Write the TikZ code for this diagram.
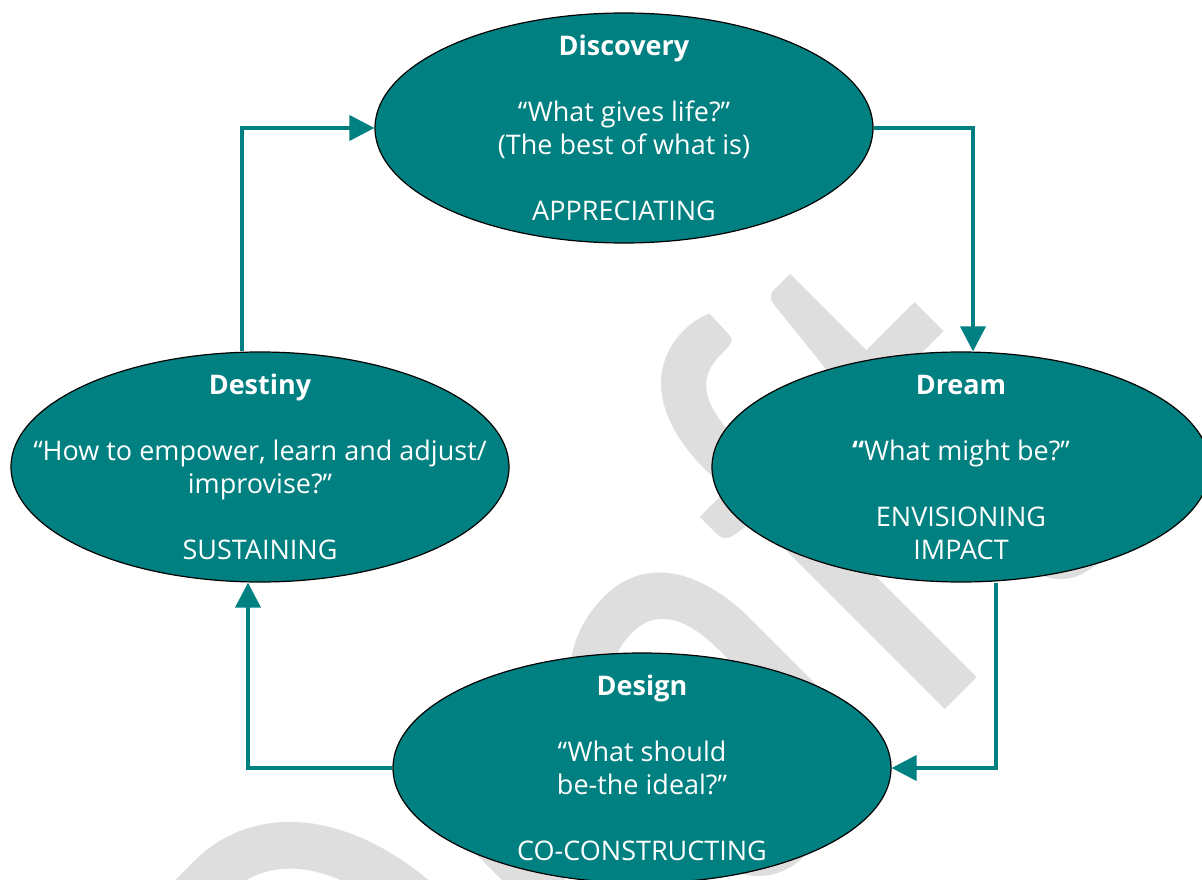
\documentclass[tikz,border=0pt]{standalone}
\usepackage{fontspec}
\setmainfont{Open Sans}
\newfontfamily\draftfont{Carlito}
\usetikzlibrary{arrows.meta, shapes.geometric}

\definecolor{stageteal}{RGB}{0,128,128}
\definecolor{draftgray}{RGB}{222,222,222}

\begin{document}
\begin{tikzpicture}[x=1pt, y=-1pt,
    stage/.style={ellipse, draw=black, line width=1.2pt, fill=stageteal, minimum width=498pt, minimum height=230pt, inner sep=0pt},
    stagetext/.style={align=center, text=white, font=\fontsize{27}{33}\selectfont, inner sep=0pt},
    flow/.style={draw=stageteal, line width=4pt, -{Triangle[length=25pt, width=25pt]}},
    watermark/.style={text=draftgray, font=\draftfont\fontsize{660}{660}\selectfont, rotate=45, xscale=0.8, anchor=base west, inner sep=0pt}
  ]
    \useasboundingbox (0,0) rectangle (1202,880);

    % background watermark
    \node[watermark] (draft) at (385,1270) {Draft};

    % the four stages
    \node[stage] (disc) at (624,128) {};
    \node[stage] (dream) at (961,467) {};
    \node[stage] (design) at (642,768) {};
    \node[stage] (destiny) at (260,467) {};

    \node[stagetext] (disctext) at (disc) {\textbf{Discovery}\\[33pt]“What gives life?”\\(The best of what is)\\[33pt]APPRECIATING};
    \node[stagetext] (dreamtext) at (dream) {\textbf{Dream}\\[33pt]\textbf{“}What might be?”\\[33pt]ENVISIONING\\IMPACT};
    \node[stagetext] (designtext) at (design) {\textbf{Design}\\[33pt]“What should\\be-the ideal?”\\[33pt]CO-CONSTRUCTING};
    \node[stagetext] (destinytext) at (destiny) {\textbf{Destiny}\\[33pt]“How to empower, learn and adjust/\\improvise?”\\[33pt]SUSTAINING};

    % cycle
    \draw[flow] (disc.east) -| ([xshift=12pt]dream.north);
    \draw[flow] ([xshift=35pt]dream.south) |- (design.east);
    \draw[flow] (design.west) -| ([xshift=-12pt]destiny.south);
    \draw[flow] ([xshift=-18pt]destiny.north) |- (disc.west);
\end{tikzpicture}
\end{document}
